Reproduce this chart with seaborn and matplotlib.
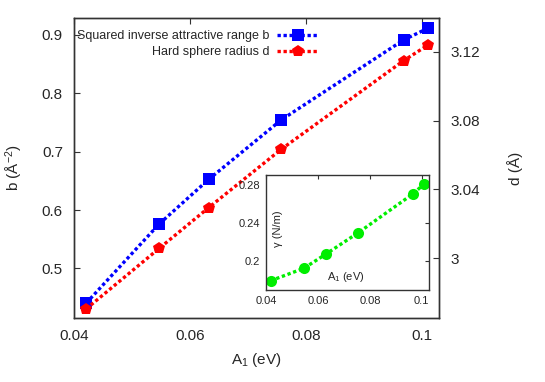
import matplotlib
matplotlib.use("Agg")
import matplotlib.pyplot as plt
import seaborn as sns
import numpy as np
from matplotlib.ticker import FuncFormatter, FixedLocator

sns.set_style("white")
plt.rcParams['font.family'] = ['Liberation Sans', 'DejaVu Sans']
plt.rcParams['mathtext.fontset'] = 'custom'
plt.rcParams['mathtext.rm'] = 'Liberation Sans'
plt.rcParams['mathtext.it'] = 'Liberation Sans'

# Data
A1 = [0.0421, 0.0547, 0.0632, 0.0757, 0.0968, 0.1010]
b_vals = [0.4405, 0.5763, 0.6524, 0.7543, 0.8914, 0.9115]
d_vals = [2.9706, 3.0058, 3.0294, 3.0633, 3.1148, 3.1239]
A1_inset = [0.0417, 0.0545, 0.0630, 0.0755, 0.0965, 0.1009]
gamma_vals = [0.1797, 0.1927, 0.2076, 0.2300, 0.2705, 0.2810]

main_xticks = [0.04, 0.06, 0.08, 0.1]
b_ticks = [0.5, 0.6, 0.7, 0.8, 0.9]
d_ticks = [3.0, 3.04, 3.08, 3.12]
inset_xticks = [0.04, 0.06, 0.08, 0.1]
gamma_ticks = [0.2, 0.24, 0.28]

W, H = 545, 382
fig = plt.figure(figsize=(W/100, H/100), dpi=100)
ax = fig.add_axes([74/W, 1-318/H, (439-74)/W, (318-18)/H])
ax2 = ax.twinx()

fmt = FuncFormatter(lambda v, p: "%g" % round(v, 4))
dot = (0, (1, 0.8))
spine_c = '#333333'

sns.lineplot(x=A1, y=b_vals, ax=ax, color='#0000ff', marker='s', markersize=8,
             markeredgewidth=0, linewidth=2.4, linestyle=dot,
             label='Squared inverse attractive range b', legend=False)
sns.lineplot(x=A1, y=d_vals, ax=ax2, color='#ff0000', marker='p', markersize=9,
             markeredgewidth=0, linewidth=2.4, linestyle=dot,
             label='Hard sphere radius d', legend=False)

ax.set_xlim(0.04, 0.1029)
ax.set_ylim(0.415, 0.929)
ax2.set_ylim(2.9653, 3.1396)
ax.xaxis.set_major_locator(FixedLocator(main_xticks))
ax.yaxis.set_major_locator(FixedLocator(b_ticks))
ax2.yaxis.set_major_locator(FixedLocator(d_ticks))
for a in (ax, ax2):
    a.xaxis.set_major_formatter(fmt)
    a.yaxis.set_major_formatter(fmt)
    for s in a.spines.values():
        s.set_color(spine_c)
        s.set_linewidth(1.0)
ax.tick_params(axis='x', direction='in', length=4, width=0.8, top=True, labelsize=11, pad=8, color=spine_c)
ax.tick_params(axis='y', direction='in', length=4, width=0.8, right=False, labelsize=11, pad=8, color=spine_c)
ax2.tick_params(axis='y', direction='in', length=4, width=0.8, labelsize=11, pad=8, color=spine_c)
ax.set_xlabel(r'A$_1$ (eV)', fontsize=11, labelpad=6)
ax.set_ylabel(r'b (Å$^{-2}$)', fontsize=11, labelpad=12)
ax2.set_ylabel('d (Å)', fontsize=11, labelpad=20)

h1, l1 = ax.get_legend_handles_labels()
h2, l2 = ax2.get_legend_handles_labels()
leg = ax2.legend(h1 + h2, l1 + l2, loc='upper left', bbox_to_anchor=(77/W, 1-30/H),
                 bbox_transform=fig.transFigure, frameon=False, markerfirst=False,
                 fontsize=9, handlelength=3.3, handletextpad=0.6, labelspacing=0.35,
                 borderaxespad=0, borderpad=0)

# Inset
axi = fig.add_axes([265.7/W, 1-290/H, (429-265.7)/W, (290-175)/H])
axi.set_facecolor('white')
sns.lineplot(x=A1_inset, y=gamma_vals, ax=axi, color='#00ee00', marker='o', markersize=8,
             markeredgewidth=0, linewidth=2.4, linestyle=dot, legend=False)
axi.set_xlim(0.0398, 0.1028)
axi.set_ylim(0.170, 0.2905)
axi.xaxis.set_major_locator(FixedLocator(inset_xticks))
axi.yaxis.set_major_locator(FixedLocator(gamma_ticks))
axi.xaxis.set_major_formatter(fmt)
axi.yaxis.set_major_formatter(fmt)
for s in axi.spines.values():
    s.set_color(spine_c)
    s.set_linewidth(1.0)
axi.tick_params(direction='in', length=3, width=0.8, top=True, right=True, labelsize=8, pad=4, color=spine_c)
axi.set_xlabel('')
axi.set_ylabel('')
axi.text(0.075, 0.53, 'γ (N/m)', transform=axi.transAxes, rotation=90, ha='center', va='center', fontsize=8)
axi.text(0.49, 0.115, r'A$_1$ (eV)', transform=axi.transAxes, ha='center', va='center', fontsize=8)

fig.savefig('out.png', dpi=100)
